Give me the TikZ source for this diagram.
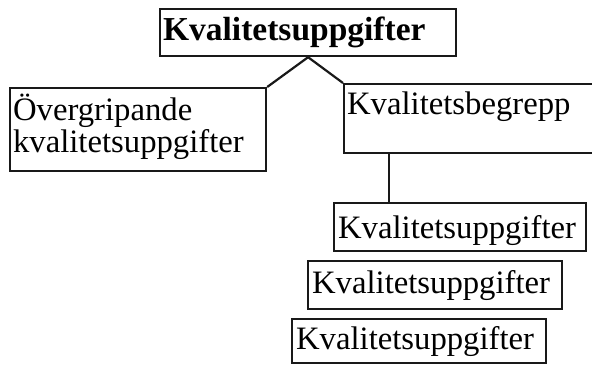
\documentclass[tikz,border=0pt]{standalone}
\usepackage{fontspec}
\setmainfont{Liberation Serif}
\begin{document}
\begin{tikzpicture}[x=1pt,y=-1pt,
  box/.style={draw=black!90, line width=2.2pt, anchor=north west, inner ysep=0pt, inner xsep=3pt, align=left,
    font=\fontsize{32.7}{32}\selectfont},
  conn/.style={draw=black!90, line width=2.2pt}]
\useasboundingbox (0,0) rectangle (592,365);
\node[box, text width=290pt, text height=31pt, text depth=16pt, font=\fontsize{33.5}{34}\selectfont\bfseries] (top) at (159,8) {Kvalitetsuppgifter};
\node[box, text width=250pt, text height=32pt, text depth=51pt] (left) at (9,87) {Övergripande\\kvalitetsuppgifter};
\node[box, text width=251pt, text height=30pt, text depth=39pt] (right) at (343,83) {Kvalitetsbegrepp};
\node[box, inner xsep=4pt, text width=244pt, text height=35pt, text depth=13pt] (k1) at (333,202) {Kvalitetsuppgifter};
\node[box, inner xsep=4pt, text width=246pt, text height=32pt, text depth=16pt] (k2) at (307,260) {Kvalitetsuppgifter};
\node[box, inner xsep=4pt, text width=246pt, text height=30pt, text depth=14pt] (k3) at (291,318) {Kvalitetsuppgifter};
\draw[conn] (top.south) -- (left.north east);
\draw[conn] (top.south) -- (right.north west);
\draw[conn] ([xshift=46pt]right.south west) -- ([xshift=46pt]right.south west |- k1.north);
\end{tikzpicture}
\end{document}
